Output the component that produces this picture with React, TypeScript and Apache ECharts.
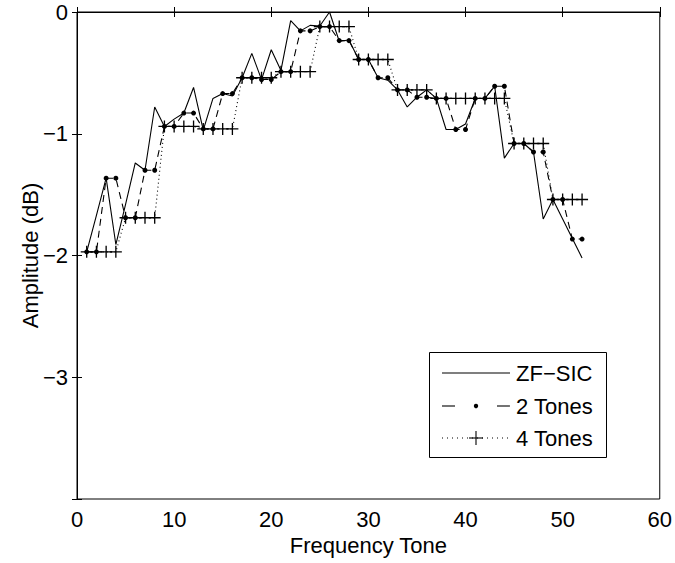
import React, { useEffect, useRef } from "react";
import * as echarts from "echarts";

const tones = [
  1, 2, 3, 4, 5, 6, 7, 8, 9, 10, 11, 12, 13, 14, 15, 16, 17, 18, 19, 20, 21, 22, 23, 24, 25, 26,
  27, 28, 29, 30, 31, 32, 33, 34, 35, 36, 37, 38, 39, 40, 41, 42, 43, 44, 45, 46, 47, 48, 49, 50, 51, 52,
];

const zfSic = [
  -1.97, -1.67, -1.365, -1.91, -1.58, -1.24, -1.3, -0.78, -0.94, -0.88, -0.83, -0.62, -0.97,
  -0.71, -0.67, -0.69, -0.54, -0.34, -0.555, -0.31, -0.48, -0.07, -0.155, -0.11, -0.115, 0.0,
  -0.24, -0.23, -0.39, -0.39, -0.54, -0.56, -0.64, -0.78, -0.7, -0.64, -0.71, -0.965, -0.965,
  -0.92, -0.71, -0.71, -0.61, -1.2, -1.08, -1.08, -1.15, -1.7, -1.54, -1.7, -1.86, -2.02,
];

const twoTones = [
  -1.97, -1.97, -1.365, -1.365, -1.69, -1.69, -1.3, -1.3, -0.94, -0.94, -0.83, -0.83, -0.96,
  -0.96, -0.67, -0.67, -0.54, -0.54, -0.555, -0.555, -0.49, -0.49, -0.155, -0.155, -0.12, -0.12,
  -0.235, -0.235, -0.39, -0.39, -0.54, -0.54, -0.64, -0.64, -0.7, -0.7, -0.71, -0.71, -0.965,
  -0.965, -0.71, -0.71, -0.61, -0.61, -1.08, -1.08, -1.15, -1.15, -1.54, -1.54, -1.865, -1.865,
];

const fourTones = [
  -1.97, -1.97, -1.97, -1.97, -1.69, -1.69, -1.69, -1.69, -0.94, -0.94, -0.94, -0.94, -0.96,
  -0.96, -0.96, -0.96, -0.54, -0.54, -0.54, -0.54, -0.49, -0.49, -0.49, -0.49, -0.12, -0.12,
  -0.12, -0.12, -0.39, -0.39, -0.39, -0.39, -0.64, -0.64, -0.64, -0.64, -0.71, -0.71, -0.71,
  -0.71, -0.71, -0.71, -0.71, -0.71, -1.08, -1.08, -1.08, -1.08, -1.54, -1.54, -1.54, -1.54,
];

const seriesNames = ["ZF\u2212SIC", "2 Tones", "4 Tones"];
const xAxisTitle = "Frequency Tone";
const yAxisTitle = "Amplitude (dB)";

const FONT = "'Liberation Sans', Arial, Helvetica, sans-serif";
const FS = 22;
const fmtX = (v: number) => String(v).replace("-", "\u2212");
const fmtY = (v: number) => (v === -4 ? "" : String(v).replace("-", "\u2212"));

export default function App() {
  const ref = useRef<HTMLDivElement>(null);
  useEffect(() => {
    const chart = echarts.init(ref.current!, null, { renderer: "svg" });
    const pts = (ys: number[]) => tones.map((t, i) => [t, ys[i]]);
    const plus = "path://M0,4.45H10V5.55H0Z M4.45,0H5.55V10H4.45Z";
    const black = "#000";
    const axisCommon = {
      axisLine: { show: true, lineStyle: { color: black, width: 1 } },
      axisTick: { show: true, inside: true, length: 5, lineStyle: { color: black } },
      splitLine: { show: false },
    };

    // legend (drawn as graphic)
    const lx0 = 442, lx1 = 510, lxm = 476, tx = 516;
    const rows = [373, 406, 438];
    const lineStyle = { stroke: black, lineWidth: 1.1 };
    const legendEls: any[] = [
      { type: "rect", shape: { x: 429.5, y: 352.5, width: 177, height: 105 },
        style: { fill: "#fff", stroke: black, lineWidth: 1 }, z: 100 },
      { type: "line", shape: { x1: lx0, y1: rows[0], x2: lx1, y2: rows[0] }, style: lineStyle, z: 101 },
      { type: "line", shape: { x1: lx0, y1: rows[1], x2: lx0 + 13, y2: rows[1] }, style: lineStyle, z: 101 },
      { type: "line", shape: { x1: lx1 - 13, y1: rows[1], x2: lx1, y2: rows[1] }, style: lineStyle, z: 101 },
      { type: "circle", shape: { cx: lxm, cy: rows[1], r: 2.2 }, style: { fill: black }, z: 101 },
      { type: "line", shape: { x1: lx0, y1: rows[2], x2: lx1, y2: rows[2] },
        style: { stroke: black, lineWidth: 1.1, lineDash: [1, 4] }, z: 101 },
      { type: "line", shape: { x1: lxm - 7, y1: rows[2], x2: lxm + 7, y2: rows[2] }, style: lineStyle, z: 101 },
      { type: "line", shape: { x1: lxm, y1: rows[2] - 7, x2: lxm, y2: rows[2] + 7 }, style: lineStyle, z: 101 },
    ];
    seriesNames.forEach((n, i) => {
      legendEls.push({
        type: "text", x: tx, y: rows[i], z: 101,
        style: { text: n, fill: black, font: `${FS}px ${FONT}`, verticalAlign: "middle", align: "left" },
      });
    });

    chart.setOption({
      animation: false,
      backgroundColor: "#fff",
      textStyle: { fontFamily: FONT },
      grid: { left: 77, right: 14, top: 12, bottom: 64, show: true, borderColor: black, borderWidth: 1 },
      xAxis: [
        {
          type: "value", min: 0, max: 60, interval: 10, position: "bottom",
          ...axisCommon,
          axisLabel: { color: black, fontSize: FS, margin: 9, fontFamily: FONT, formatter: fmtX },
          name: xAxisTitle, nameLocation: "middle", nameGap: 35, nameMoveOverlap: false,
          nameTextStyle: { color: black, fontSize: FS, fontFamily: FONT },
        },
        {
          type: "value", min: 0, max: 60, interval: 10, position: "top",
          ...axisCommon,
          axisLabel: { show: false },
        },
      ],
      yAxis: [
        {
          type: "value", min: -4, max: 0, interval: 1, position: "left",
          ...axisCommon,
          axisLabel: { color: black, fontSize: FS, margin: 9, fontFamily: FONT, formatter: fmtY },
          name: yAxisTitle, nameLocation: "middle", nameGap: 36, nameRotate: 90, nameMoveOverlap: false,
          nameTextStyle: { color: black, fontSize: FS, fontFamily: FONT },
        },
        {
          type: "value", min: -4, max: 0, interval: 1, position: "right",
          ...axisCommon,
          axisLabel: { show: false },
        },
      ],
      graphic: legendEls,
      series: [
        {
          name: seriesNames[0], type: "line", data: pts(zfSic),
          symbol: "none", showSymbol: false,
          lineStyle: { color: black, width: 1.1, type: "solid" },
          itemStyle: { color: black },
        },
        {
          name: seriesNames[1], type: "line", data: pts(twoTones),
          symbol: "circle", symbolSize: 5, showSymbol: true,
          lineStyle: { color: black, width: 1.1, type: [7, 5] },
          itemStyle: { color: black },
        },
        {
          name: seriesNames[2], type: "line", data: pts(fourTones),
          symbol: plus, symbolSize: 12, showSymbol: true,
          lineStyle: { color: black, width: 1.1, type: [1, 3] },
          itemStyle: { color: black },
        },
      ],
    });
    return () => chart.dispose();
  }, []);
  return <div ref={ref} style={{ width: 675, height: 563, position: "absolute", left: 0, top: 0 }} />;
}
